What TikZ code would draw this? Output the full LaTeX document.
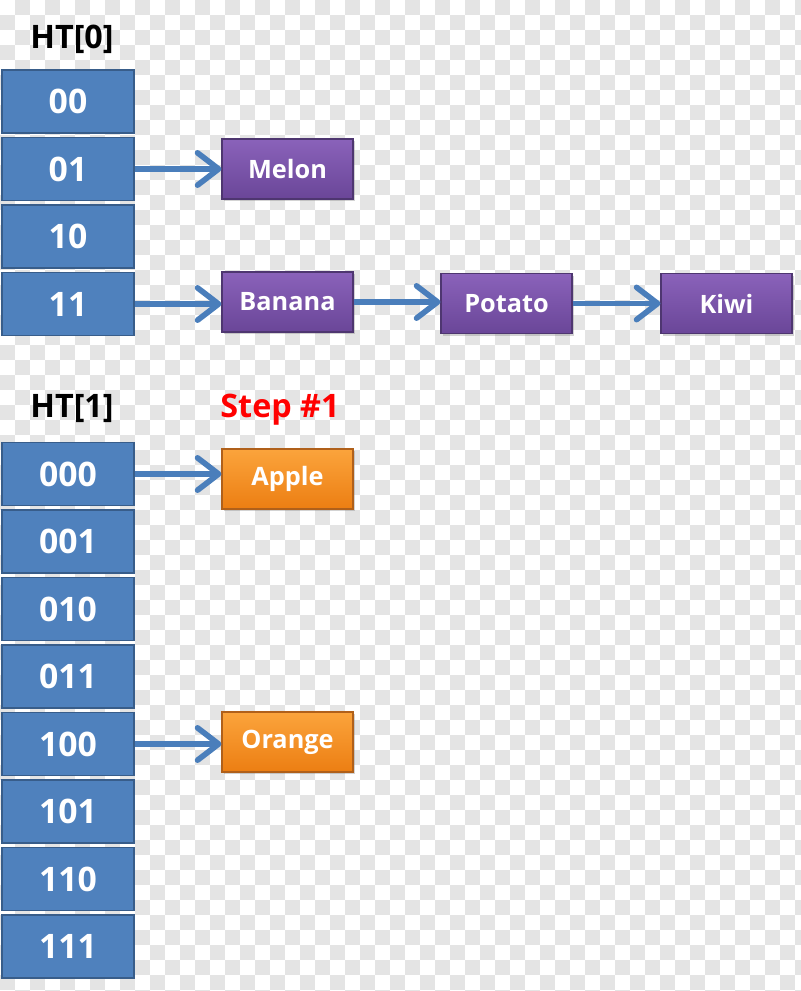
\documentclass[tikz,border=0pt]{standalone}
\usepackage{fontspec}
\setmainfont{Open Sans}
\usetikzlibrary{arrows.meta,shadows}
\definecolor{slotblue}{HTML}{4F81BD}
\definecolor{slotedge}{HTML}{385D8A}
\definecolor{arrowblue}{HTML}{4A7EBB}
\definecolor{grapetop}{HTML}{8A62BA}
\definecolor{grapebot}{HTML}{6A4698}
\definecolor{grapeedge}{HTML}{4E3670}
\definecolor{peeltop}{HTML}{FBA43C}
\definecolor{peelbot}{HTML}{EC7E12}
\definecolor{peeledge}{HTML}{B0601A}
\definecolor{checkgray}{HTML}{E4E4E4}

\tikzset{
  slot/.style={draw=slotedge, line width=1.4pt, fill=slotblue, text=white,
    minimum width=33mm, minimum height=15.75mm, inner sep=0pt,
    font=\fontsize{24}{24}\selectfont\bfseries},
  item/.style={draw, line width=0.8pt, text=white, minimum width=32.75mm,
    minimum height=15mm, inner sep=0pt,
    drop shadow={opacity=0.35, shadow xshift=1.2pt, shadow yshift=-1.5pt},
    font=\fontsize{18}{18}\selectfont\bfseries},
  grape/.style={item, draw=grapeedge, top color=grapetop, bottom color=grapebot},
  peel/.style={item, draw=peeledge, top color=peeltop, bottom color=peelbot},
  title/.style={font=\fontsize{23}{23}\selectfont\bfseries},
  link/.style={draw=arrowblue, line width=4pt,
    -{Straight Barb[length=15pt, width=23pt, round]}}
}

\begin{document}
\begin{tikzpicture}[x=0.25mm, y=-0.25mm]
        \useasboundingbox (0,0) rectangle (800,991);

        % transparency checkerboard
        \foreach \i in {0,...,53} {
          \foreach \j in {0,...,66} {
            \pgfmathparse{int(mod(\i+\j,2))}
            \ifnum\pgfmathresult=1
              \fill[checkgray] (\i*15,\j*15) rectangle ++(15,15);
            \fi
          }
        }

        % first table
        \node[title] (ht0) at (72,39) {HT[0]};
        \node[slot] (s00) at (68,101.5) {00};
        \node[slot] (s01) at (68,169)   {01};
        \node[slot] (s10) at (68,236.5) {10};
        \node[slot] (s11) at (68,304)   {11};

        \node[grape] (melon)  at (287.5,169) {Melon};
        \node[grape] (banana) at (287.5,302) {Banana};
        \node[grape] (potato) at (506.5,303.5) {Potato};
        \node[grape] (kiwi)   at (726.5,303.5) {Kiwi};

        % second table
        \node[title] (ht1) at (72,409) {HT[1]};
        \node[title, text=red] (step) at (280,410) {Step \#1};
        \node[slot] (s000) at (68,474)   {000};
        \node[slot] (s001) at (68,541.5) {001};
        \node[slot] (s010) at (68,609)   {010};
        \node[slot] (s011) at (68,676.5) {011};
        \node[slot] (s100) at (68,744)   {100};
        \node[slot] (s101) at (68,811.5) {101};
        \node[slot] (s110) at (68,879)   {110};
        \node[slot] (s111) at (68,946.5) {111};

        \node[peel] (apple)  at (287.5,479) {Apple};
        \node[peel] (orange) at (287.5,742) {Orange};

        % Draw the links
        \draw[link] (s01.east)  -- (s01.east -| melon.west);
        \draw[link] (s11.east)  -- (s11.east -| banana.west);
        \draw[link] (banana.east) -- (potato.west |- banana.east);
        \draw[link] (potato.east) -- (kiwi.west);
        \draw[link] (s000.east) -- (s000.east -| apple.west);
        \draw[link] (s100.east) -- (s100.east -| orange.west);
    \end{tikzpicture}
\end{document}
